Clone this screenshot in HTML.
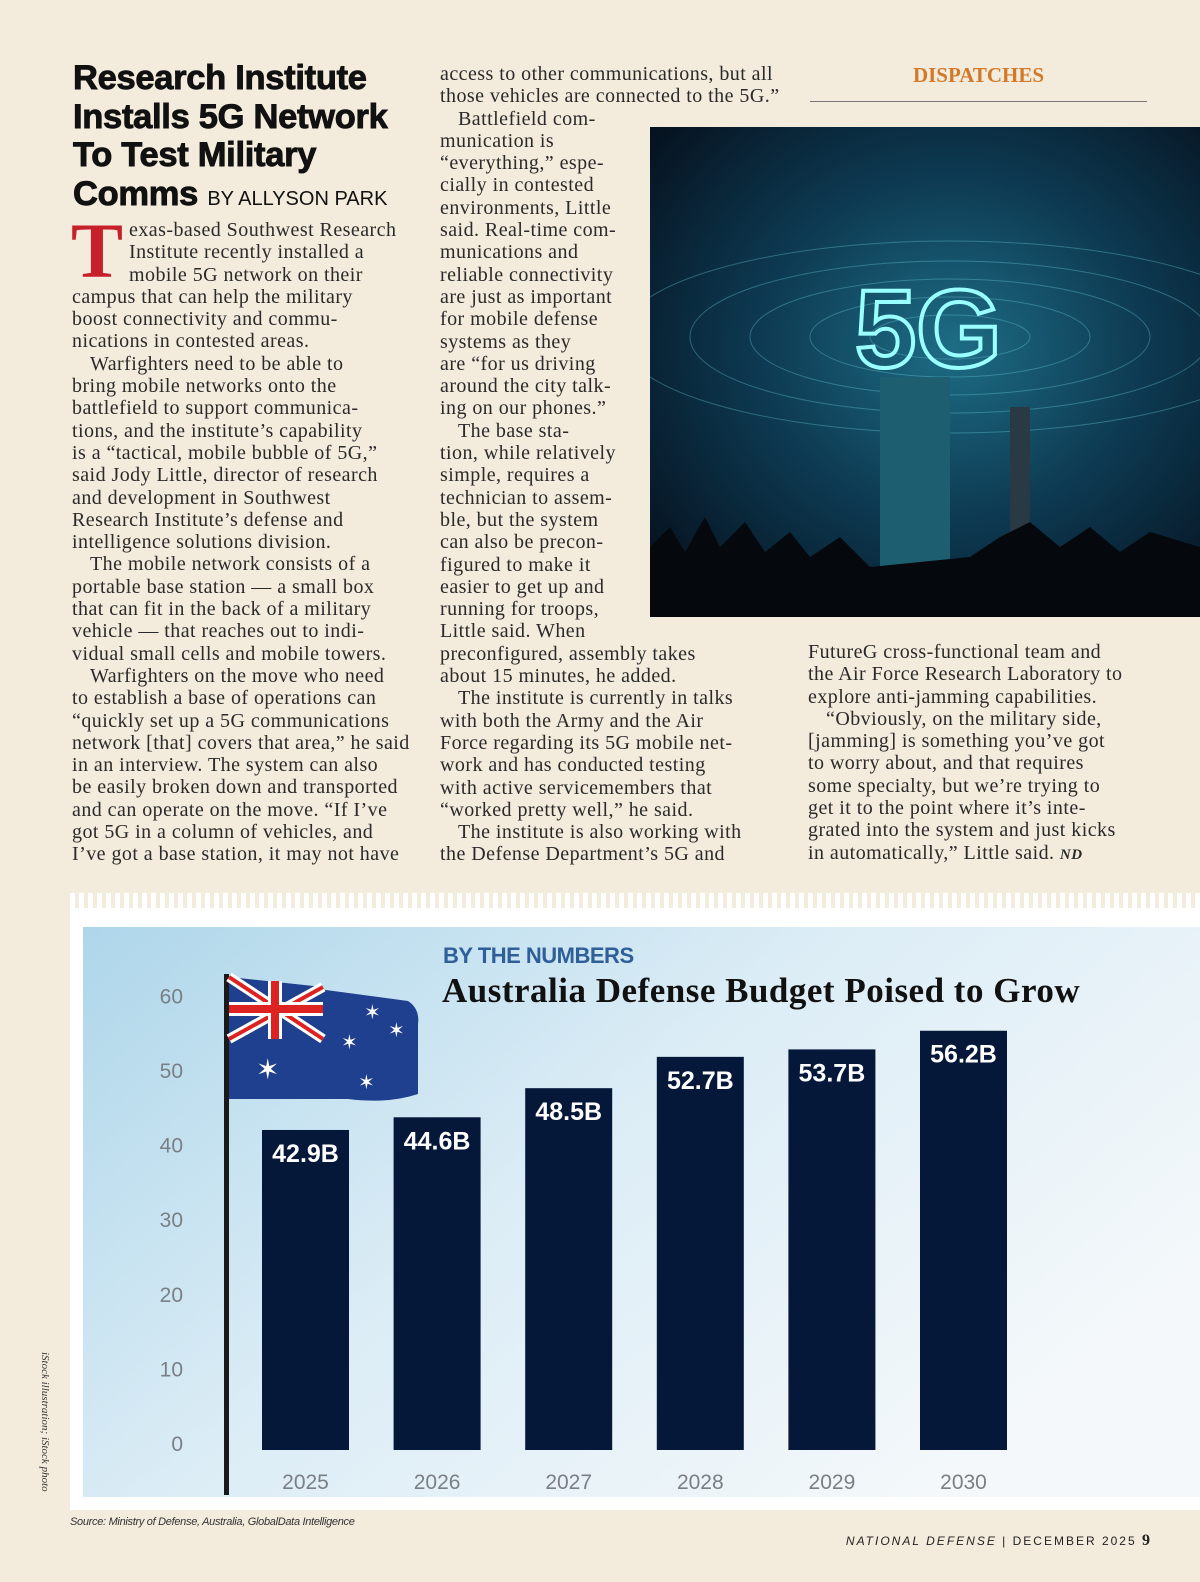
<!DOCTYPE html>
<html><head><meta charset="utf-8">
<style>
*{margin:0;padding:0;box-sizing:border-box}
body{width:1200px;height:1582px;background:#f3ebdc;position:relative;overflow:hidden;font-family:"Liberation Serif",serif;color:#222}
.col{position:absolute;font-size:20px;letter-spacing:0.45px;line-height:22.3px;white-space:nowrap;color:#2a2a2a}
.ind{padding-left:18px;display:inline-block}
h1{position:absolute;left:73px;top:59px;font-family:"Liberation Sans",sans-serif;font-weight:900;font-size:34.5px;line-height:38.5px;letter-spacing:-0.3px;color:#111;-webkit-text-stroke:0.9px #111}
h1 span{font-weight:400;font-size:20px;letter-spacing:0;-webkit-text-stroke:0}
</style></head><body>
<h1>Research Institute<br>Installs 5G Network<br>To Test Military<br>Comms <span>BY ALLYSON PARK</span></h1>
<div style="position:absolute;left:71px;top:216px;font-family:'Liberation Serif',serif;font-weight:bold;font-size:78px;line-height:70px;color:#c8202a">T</div>
<div class="col" style="left:72px;top:219px">
<span style="padding-left:57px">exas-based Southwest Research</span><br>
<span style="padding-left:57px">Institute recently installed a</span><br>
<span style="padding-left:57px">mobile 5G network on their</span><br>
campus that can help the military<br>boost connectivity and commu-<br>nications in contested areas.<br>
<span class="ind">Warfighters need to be able to</span><br>bring mobile networks onto the<br>battlefield to support communica-<br>tions, and the institute’s capability<br>is a “tactical, mobile bubble of 5G,”<br>said Jody Little, director of research<br>and development in Southwest<br>Research Institute’s defense and<br>intelligence solutions division.<br>
<span class="ind">The mobile network consists of a</span><br>portable base station — a small box<br>that can fit in the back of a military<br>vehicle — that reaches out to indi-<br>vidual small cells and mobile towers.<br>
<span class="ind">Warfighters on the move who need</span><br>to establish a base of operations can<br>“quickly set up a 5G communications<br>network [that] covers that area,” he said<br>in an interview. The system can also<br>be easily broken down and transported<br>and can operate on the move. “If I’ve<br>got 5G in a column of vehicles, and<br>I’ve got a base station, it may not have
</div>
<div class="col" style="left:440px;top:63px">
access to other communications, but all<br>those vehicles are connected to the 5G.”<br>
<span class="ind">Battlefield com-</span><br>munication is<br>“everything,” espe-<br>cially in contested<br>environments, Little<br>said. Real-time com-<br>munications and<br>reliable connectivity<br>are just as important<br>for mobile defense<br>systems as they<br>are “for us driving<br>around the city talk-<br>ing on our phones.”<br>
<span class="ind">The base sta-</span><br>tion, while relatively<br>simple, requires a<br>technician to assem-<br>ble, but the system<br>can also be precon-<br>figured to make it<br>easier to get up and<br>running for troops,<br>Little said. When<br>preconfigured, assembly takes<br>about 15 minutes, he added.<br>
<span class="ind">The institute is currently in talks</span><br>with both the Army and the Air<br>Force regarding its 5G mobile net-<br>work and has conducted testing<br>with active servicemembers that<br>“worked pretty well,” he said.<br>
<span class="ind">The institute is also working with</span><br>the Defense Department’s 5G and
</div>
<div class="col" style="left:808px;top:641px">
FutureG cross-functional team and<br>the Air Force Research Laboratory to<br>explore anti-jamming capabilities.<br>
<span class="ind">“Obviously, on the military side,</span><br>[jamming] is something you’ve got<br>to worry about, and that requires<br>some specialty, but we’re trying to<br>get it to the point where it’s inte-<br>grated into the system and just kicks<br>in automatically,” Little said. <b><i style="font-size:15px">ND</i></b>
</div>
<div style="position:absolute;left:810px;width:337px;top:63px;text-align:center;font-weight:bold;font-size:21px;color:#d27a2a">DISPATCHES</div>
<div style="position:absolute;left:810px;width:337px;top:101px;height:1px;background:#777"></div>
<svg style="position:absolute;left:650px;top:127px" width="550" height="490">
<defs><radialGradient id="rg" cx="0.55" cy="0.45" r="0.7"><stop offset="0" stop-color="#1d6d85"/><stop offset="0.5" stop-color="#0d3a52"/><stop offset="1" stop-color="#06121f"/></radialGradient></defs>
<rect width="550" height="490" fill="url(#rg)"/>
<g fill="none" stroke="#6fd0e0" stroke-opacity="0.35">
<ellipse cx="300" cy="210" rx="80" ry="22"/><ellipse cx="300" cy="210" rx="140" ry="40"/><ellipse cx="300" cy="210" rx="200" ry="58"/><ellipse cx="300" cy="210" rx="260" ry="76"/><ellipse cx="300" cy="210" rx="330" ry="96"/></g>
<text x="205" y="240" font-family="Liberation Sans,sans-serif" font-weight="bold" font-size="110" fill="none" stroke="#9ff" stroke-width="4">5G</text>
<rect x="230" y="250" width="70" height="190" fill="#1d5f70"/><rect x="360" y="280" width="20" height="170" fill="#2a3a44"/>
<path d="M0 490 L0 420 L20 400 L35 425 L55 390 L70 420 L95 395 L115 425 L140 405 L160 430 L190 410 L220 440 L320 430 L350 410 L380 395 L410 420 L440 400 L470 425 L500 405 L550 420 L550 490Z" fill="#05090d"/>
</svg>

<div style="position:absolute;left:70px;top:893px;width:1130px;height:617px;background:#fff"></div>
<div style="position:absolute;left:70px;top:893px;width:1130px;height:15px;background:repeating-linear-gradient(90deg,#fff 0 5px,#f3ebdc 5px 9px)"></div>
<svg id="chart" style="position:absolute;left:83px;top:927px" width="1117" height="570">
<defs><linearGradient id="sky" x1="0" y1="0" x2="1" y2="0.6"><stop offset="0" stop-color="#aed6ea"/><stop offset="0.5" stop-color="#dcedf6"/><stop offset="1" stop-color="#f4f8fa"/></linearGradient></defs>
<rect width="1117" height="570" fill="url(#sky)"/>
<text x="360" y="36" font-family="Liberation Sans,sans-serif" font-weight="bold" font-size="22" fill="#2f5f98" letter-spacing="-0.5">BY THE NUMBERS</text>
<text x="359" y="75" font-family="Liberation Serif,serif" font-weight="bold" font-size="35" fill="#111" letter-spacing="0.5">Australia Defense Budget Poised to Grow</text>
<g>
<rect x="141" y="47" width="5" height="521" fill="#1a1a1a"/>
<path d="M146 50 L325 74 Q337 82 335 97 L335 167 Q305 177 265 172 L146 172Z" fill="#1f3f8f"/>
<path d="M146 50 L240 60 L240 112 L146 112Z" fill="#1f3f8f"/>
<path d="M146 50 L240 112 M240 60 L146 112" stroke="#fff" stroke-width="10"/>
<path d="M146 50 L240 112 M240 60 L146 112" stroke="#d22" stroke-width="4"/>
<rect x="146" y="75" width="94" height="14" fill="#fff"/><rect x="185" y="54" width="14" height="58" fill="#fff"/>
<rect x="146" y="78" width="94" height="8" fill="#d22"/><rect x="188" y="54" width="8" height="58" fill="#d22"/>
<g fill="#fff" font-size="20" font-family="DejaVu Sans,sans-serif"><text x="173" y="152" font-size="28">✶</text><text x="281" y="92">✶</text><text x="305" y="110">✶</text><text x="258" y="122">✶</text><text x="275" y="162">✶</text></g>
</g>
<g id="axis"></g><g id="bars"></g>
</svg>
<div style="position:absolute;left:39px;top:1352px;writing-mode:vertical-rl;font-style:italic;font-size:11px;color:#333">iStock illustration; iStock photo</div>
<div style="position:absolute;left:70px;top:1516px;font-family:'Liberation Sans',sans-serif;font-style:italic;font-size:11px;letter-spacing:-0.3px;color:#333">Source: Ministry of Defense, Australia, GlobalData Intelligence</div>
<div style="position:absolute;right:50px;top:1532px;font-family:'Liberation Sans',sans-serif;font-size:12px;letter-spacing:2px;color:#222"><i>NATIONAL DEFENSE</i> | DECEMBER 2025 <b style="font-family:'Liberation Serif',serif;font-size:16px;letter-spacing:0">9</b></div>
<script>
const years=["2025","2026","2027","2028","2029","2030"];
const values=[42.9,44.6,48.5,52.7,53.7,56.2];
const valueLabels=["42.9B","44.6B","48.5B","52.7B","53.7B","56.2B"];
const ticks=[0,10,20,30,40,50,60];
const NS="http://www.w3.org/2000/svg";
const base=523, per=7.46;
const y=v=>base-v*per;
const x=i=>179+i*131.6;
const bw=87;
const ax=document.getElementById('axis'), bg=document.getElementById('bars');
ticks.forEach(t=>{const e=document.createElementNS(NS,'text');


e.setAttribute('x',100);e.setAttribute('y',y(t)+1);e.setAttribute('text-anchor','end');
e.setAttribute('font-family','Liberation Sans,sans-serif');e.setAttribute('font-size','21');e.setAttribute('fill','#7a7f85');
e.textContent=t;ax.appendChild(e);});
values.forEach((v,i)=>{const r=document.createElementNS(NS,'rect');


r.setAttribute('x',x(i));r.setAttribute('y',y(v));r.setAttribute('width',bw);r.setAttribute('height',base-y(v));r.setAttribute('fill','#06183a');bg.appendChild(r);
const l=document.createElementNS(NS,'text');


l.setAttribute('x',x(i)+bw/2);l.setAttribute('y',y(v)+32);l.setAttribute('text-anchor','middle');
l.setAttribute('font-family','Liberation Sans,sans-serif');l.setAttribute('font-weight','bold');l.setAttribute('font-size','25');l.setAttribute('fill','#fff');
l.textContent=valueLabels[i];bg.appendChild(l);
const yl=document.createElementNS(NS,'text');


yl.setAttribute('x',x(i)+bw/2);yl.setAttribute('y',562);yl.setAttribute('text-anchor','middle');
yl.setAttribute('font-family','Liberation Sans,sans-serif');yl.setAttribute('font-size','21');yl.setAttribute('fill','#7a7f85');
yl.textContent=years[i];bg.appendChild(yl);});
</script>
</body></html>
